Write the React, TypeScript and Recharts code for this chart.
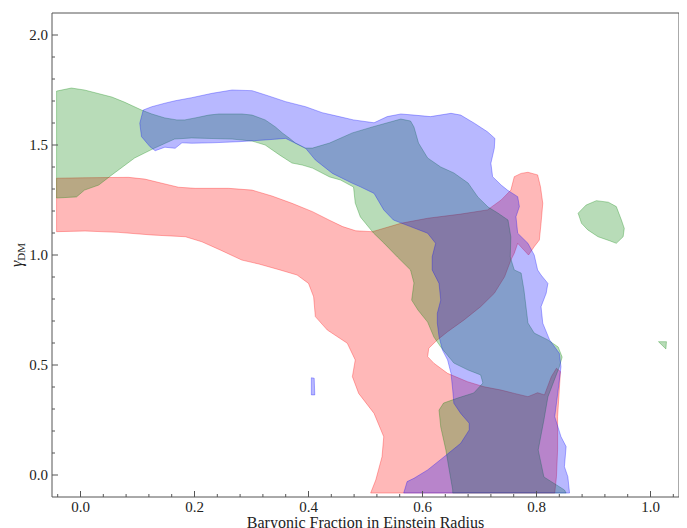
import { ScatterChart, Scatter, XAxis, YAxis } from "recharts";

type Pt = [number, number];

// contour outlines (x = baryonic fraction, y = gamma_DM)
const redMain: Pt[] = [
  [-0.042, 1.349], [0.008, 1.351], [0.084, 1.353], [0.113, 1.345], [0.143, 1.326], [0.172, 1.308],
  [0.201, 1.303], [0.26, 1.303], [0.301, 1.295], [0.336, 1.268], [0.371, 1.235], [0.407, 1.197],
  [0.436, 1.159], [0.46, 1.129], [0.483, 1.11], [0.512, 1.106], [0.562, 1.144], [0.609, 1.167],
  [0.667, 1.186], [0.714, 1.205], [0.738, 1.25], [0.755, 1.295], [0.761, 1.356], [0.773, 1.371],
  [0.785, 1.376], [0.802, 1.364], [0.807, 1.31], [0.811, 1.235], [0.808, 1.144], [0.805, 1.068],
  [0.796, 1.038], [0.786, 1.0], [0.767, 1.053], [0.761, 1.008], [0.755, 0.977], [0.744, 0.901],
  [0.726, 0.826], [0.702, 0.765], [0.673, 0.705], [0.644, 0.651], [0.626, 0.614], [0.611, 0.576],
  [0.609, 0.538], [0.62, 0.508], [0.644, 0.462], [0.679, 0.424], [0.708, 0.401], [0.738, 0.386],
  [0.761, 0.371], [0.785, 0.356], [0.802, 0.374], [0.814, 0.364], [0.826, 0.447], [0.835, 0.485],
  [0.842, 0.47], [0.84, 0.386], [0.837, 0.265], [0.837, 0.114], [0.835, -0.008], [0.832, -0.082],
  [0.509, -0.082], [0.518, -0.023], [0.529, 0.083], [0.532, 0.174], [0.515, 0.28], [0.488, 0.371],
  [0.477, 0.447], [0.482, 0.523], [0.468, 0.599], [0.433, 0.659], [0.412, 0.72], [0.409, 0.81],
  [0.4, 0.871], [0.38, 0.909], [0.35, 0.932], [0.313, 0.959], [0.283, 0.977], [0.245, 1.023],
  [0.213, 1.06], [0.184, 1.083], [0.125, 1.091], [0.066, 1.103], [0.008, 1.109], [-0.042, 1.106],
];

const greenMain: Pt[] = [
  [-0.042, 1.745], [-0.016, 1.759], [0.007, 1.75], [0.055, 1.718], [0.077, 1.695], [0.107, 1.659],
  [0.125, 1.641], [0.148, 1.623], [0.169, 1.614], [0.183, 1.614], [0.201, 1.623], [0.225, 1.636],
  [0.243, 1.641], [0.283, 1.641], [0.301, 1.636], [0.324, 1.614], [0.342, 1.582], [0.354, 1.555],
  [0.366, 1.532], [0.377, 1.509], [0.394, 1.486], [0.407, 1.486], [0.437, 1.509], [0.477, 1.555],
  [0.512, 1.582], [0.562, 1.618], [0.579, 1.609], [0.585, 1.582], [0.593, 1.509], [0.609, 1.441],
  [0.632, 1.4], [0.655, 1.373], [0.68, 1.327], [0.697, 1.264], [0.715, 1.218], [0.732, 1.191],
  [0.75, 1.159], [0.755, 1.082], [0.754, 0.991], [0.761, 0.932], [0.773, 0.918], [0.778, 0.841],
  [0.785, 0.691], [0.796, 0.645], [0.82, 0.614], [0.838, 0.582], [0.845, 0.536], [0.84, 0.491],
  [0.82, 0.355], [0.813, 0.25], [0.803, 0.114], [0.813, -0.009], [0.849, -0.068], [0.852, -0.082],
  [0.653, -0.082], [0.653, -0.068], [0.646, 0.036], [0.641, 0.114], [0.632, 0.218], [0.629, 0.295],
  [0.637, 0.327], [0.662, 0.35], [0.69, 0.373], [0.706, 0.418], [0.702, 0.455], [0.68, 0.477],
  [0.655, 0.509], [0.632, 0.582], [0.62, 0.627], [0.609, 0.695], [0.592, 0.75], [0.581, 0.795],
  [0.585, 0.873], [0.579, 0.932], [0.556, 0.991], [0.532, 1.055], [0.514, 1.1], [0.491, 1.173],
  [0.482, 1.236], [0.479, 1.309], [0.456, 1.341], [0.437, 1.355], [0.407, 1.395], [0.389, 1.409],
  [0.371, 1.418], [0.349, 1.455], [0.324, 1.5], [0.301, 1.518], [0.266, 1.527], [0.195, 1.532],
  [0.165, 1.527], [0.13, 1.486], [0.095, 1.441], [0.055, 1.364], [0.032, 1.318], [0.007, 1.295],
  [-0.007, 1.264], [-0.042, 1.259],
];

const greenIsland: Pt[] = [
  [0.873, 1.19], [0.887, 1.227], [0.905, 1.247], [0.926, 1.24], [0.94, 1.22], [0.949, 1.159],
  [0.954, 1.121], [0.952, 1.083], [0.94, 1.053], [0.928, 1.065], [0.908, 1.083], [0.89, 1.114],
  [0.879, 1.144],
];

const greenSpeck: Pt[] = [[1.014, 0.606], [1.028, 0.606], [1.027, 0.573]];

const blueMain: Pt[] = [
  [0.104, 1.599], [0.11, 1.659], [0.125, 1.674], [0.148, 1.69], [0.166, 1.701], [0.195, 1.715],
  [0.231, 1.735], [0.266, 1.75], [0.301, 1.747], [0.33, 1.723], [0.36, 1.697], [0.395, 1.674],
  [0.424, 1.647], [0.454, 1.629], [0.479, 1.614], [0.515, 1.601], [0.538, 1.629], [0.562, 1.641],
  [0.585, 1.636], [0.614, 1.629], [0.65, 1.644], [0.667, 1.636], [0.691, 1.599], [0.714, 1.56],
  [0.727, 1.53], [0.726, 1.485], [0.72, 1.417], [0.723, 1.356], [0.738, 1.318], [0.749, 1.295],
  [0.767, 1.265], [0.77, 1.22], [0.764, 1.174], [0.767, 1.099], [0.785, 1.053], [0.796, 1.0],
  [0.802, 0.932], [0.808, 0.909], [0.82, 0.871], [0.817, 0.826], [0.808, 0.765], [0.811, 0.69],
  [0.823, 0.614], [0.84, 0.553], [0.843, 0.492], [0.838, 0.386], [0.832, 0.265], [0.843, 0.174],
  [0.852, 0.129], [0.849, 0.038], [0.855, -0.008], [0.858, -0.082],
  [0.567, -0.082], [0.573, -0.03], [0.585, -0.015], [0.609, 0.023], [0.638, 0.083], [0.667, 0.144],
  [0.682, 0.205], [0.682, 0.235], [0.667, 0.28], [0.655, 0.326], [0.653, 0.386], [0.65, 0.462],
  [0.644, 0.523], [0.635, 0.568], [0.629, 0.629], [0.626, 0.69], [0.626, 0.735], [0.632, 0.795],
  [0.629, 0.871], [0.617, 0.932], [0.617, 0.992], [0.623, 1.053], [0.609, 1.099], [0.579, 1.129],
  [0.549, 1.159], [0.532, 1.205], [0.515, 1.28], [0.491, 1.31], [0.477, 1.326], [0.442, 1.371],
  [0.412, 1.432], [0.395, 1.485], [0.36, 1.53], [0.324, 1.523], [0.278, 1.515], [0.231, 1.51],
  [0.195, 1.508], [0.178, 1.51], [0.166, 1.485], [0.148, 1.49], [0.131, 1.474], [0.122, 1.492],
  [0.107, 1.538],
];

const blueSpeck: Pt[] = [[0.405, 0.442], [0.41, 0.44], [0.411, 0.364], [0.405, 0.364]];

const xMajor = [0, 0.2, 0.4, 0.6, 0.8, 1.0];
const xMinor = [
  -0.04, 0.04, 0.08, 0.12, 0.16, 0.24, 0.28, 0.32, 0.36, 0.44, 0.48, 0.52, 0.56, 0.64, 0.68,
  0.72, 0.76, 0.84, 0.88, 0.92, 0.96, 1.04,
];
const yMajor = [0, 0.5, 1.0, 1.5, 2.0];
const yMinor = [0.1, 0.2, 0.3, 0.4, 0.6, 0.7, 0.8, 0.9, 1.1, 1.2, 1.3, 1.4, 1.6, 1.7, 1.8, 1.9];

const AXIS = "#555";
const FONT = "'Liberation Serif', 'DejaVu Serif', serif";

const layers = [
  { name: "red", color: "#ff0000", shapes: [redMain] },
  { name: "green", color: "#008000", shapes: [greenMain, greenIsland, greenSpeck] },
  { name: "blue", color: "#0000ff", shapes: [blueMain, blueSpeck] },
];

const xTicks = [...xMajor, ...xMinor].sort((a, b) => a - b);
const yTicks = [...yMajor, ...yMinor].sort((a, b) => a - b);

const isMajor = (v: number, list: number[]) => list.some((m) => Math.abs(m - v) < 1e-9);

function BottomTick({ x, y, payload }: any) {
  const major = isMajor(payload.value, xMajor);
  return (
    <g>
      <line x1={x} x2={x} y1={y} y2={y - (major ? 6 : 3)} stroke={AXIS} />
      {major && (
        <text x={x} y={y + 15} textAnchor="middle" fontFamily={FONT} fontSize={15} fill="#222">
          {payload.value.toFixed(1)}
        </text>
      )}
    </g>
  );
}

function TopTick({ x, y, payload }: any) {
  const major = isMajor(payload.value, xMajor);
  return <line x1={x} x2={x} y1={y} y2={y + (major ? 6 : 3)} stroke={AXIS} />;
}

function LeftTick({ x, y, payload }: any) {
  const major = isMajor(payload.value, yMajor);
  return (
    <g>
      <line x1={x} x2={x + (major ? 6 : 3)} y1={y} y2={y} stroke={AXIS} />
      {major && (
        <text x={x - 4} y={y + 5} textAnchor="end" fontFamily={FONT} fontSize={15} fill="#222">
          {payload.value.toFixed(1)}
        </text>
      )}
    </g>
  );
}

function RightTick({ x, y, payload }: any) {
  const major = isMajor(payload.value, yMajor);
  return <line x1={x} x2={x - (major ? 6 : 3)} y1={y} y2={y} stroke={AXIS} />;
}

export default function App() {
  return (
    <ScatterChart width={679} height={520} margin={{ top: 0, right: 0, bottom: 0, left: 0 }}>
      <XAxis
        dataKey="x"
        type="number"
        domain={[-0.05, 1.05]}
        ticks={xTicks}
        interval={0}
        tickSize={0}
        tickMargin={0}
        tickLine={false}
        tick={BottomTick}
        axisLine={{ stroke: AXIS }}
        height={31}
        label={(props: any) => {
          const vb = props.viewBox;
          return (
            <text
              x={vb.x + vb.width / 2}
              y={vb.y + 31}
              textAnchor="middle"
              fontFamily={FONT}
              fontSize={16}
              fill="#222"
            >
              Baryonic Fraction in Einstein Radius
            </text>
          );
        }}
      />
      <XAxis
        xAxisId="top"
        orientation="top"
        dataKey="x"
        type="number"
        domain={[-0.05, 1.05]}
        ticks={xTicks}
        interval={0}
        tickSize={0}
        tickMargin={0}
        tickLine={false}
        tick={TopTick}
        axisLine={{ stroke: AXIS }}
        height={5}
      />
      <YAxis
        dataKey="y"
        type="number"
        domain={[-0.1, 2.1]}
        ticks={yTicks}
        interval={0}
        tickSize={0}
        tickMargin={0}
        tickLine={false}
        tick={LeftTick}
        axisLine={{ stroke: AXIS }}
        width={44}
        label={(props: any) => {
          const vb = props.viewBox;
          const cx = vb.x + 14;
          const cy = vb.y + vb.height / 2;
          return (
            <text
              x={cx}
              y={cy}
              transform={`rotate(-90, ${cx}, ${cy})`}
              textAnchor="middle"
              fontFamily={FONT}
              fontSize={16}
              fill="#222"
            >
              <tspan fontStyle="italic">γ</tspan>
              <tspan dy={3} fontSize={11}>DM</tspan>
            </text>
          );
        }}
      />
      <YAxis
        yAxisId="right"
        orientation="right"
        dataKey="y"
        type="number"
        domain={[-0.1, 2.1]}
        ticks={yTicks}
        interval={0}
        tickSize={0}
        tickMargin={0}
        tickLine={false}
        tick={RightTick}
        axisLine={{ stroke: AXIS }}
        width={8}
      />
      {layers.flatMap((layer) =>
        layer.shapes.map((shape, i) => (
          <Scatter
            key={`${layer.name}-${i}`}
            name={`${layer.name}-${i}`}
            data={shape.map(([x, y]) => ({ x, y }))}
            fill={layer.color}
            line={{
              fill: layer.color,
              fillOpacity: 0.28,
              stroke: layer.color,
              strokeOpacity: 0.3,
              strokeWidth: 1,
            }}
            lineJointType="linearClosed"
            shape={() => <g />}
            isAnimationActive={false}
          />
        ))
      )}
    </ScatterChart>
  );
}
